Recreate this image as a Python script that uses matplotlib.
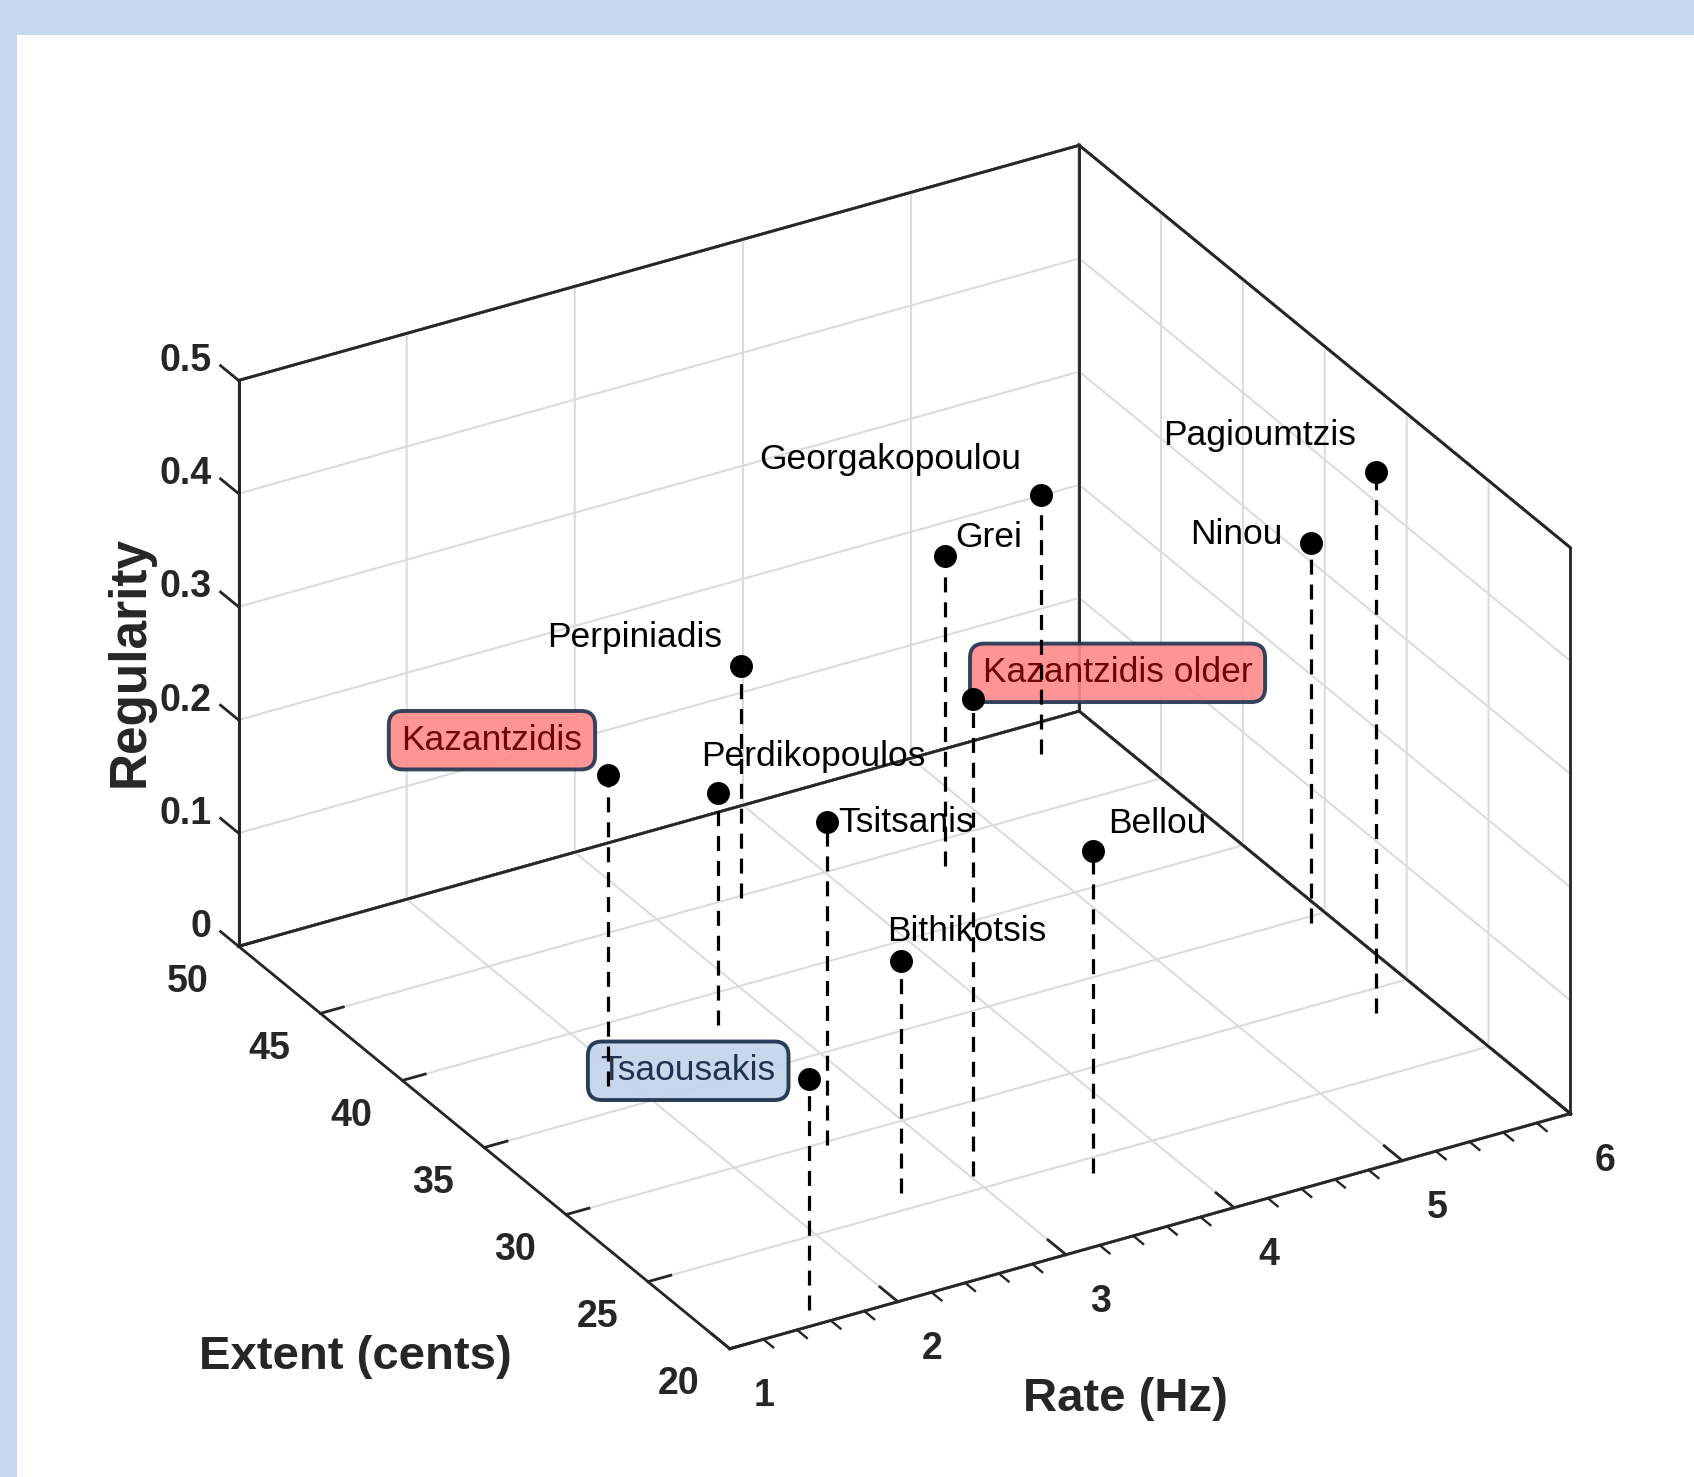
import numpy as np
import matplotlib.pyplot as plt
from matplotlib.patches import Rectangle
from mpl_toolkits.mplot3d import proj3d

# singers: vibrato rate (Hz), extent (cents), regularity
names = ['Kazantzidis', 'Perdikopoulos', 'Perpiniadis', 'Tsitsanis', 'Bithikotsis',
         'Tsaousakis', 'Kazantzidis older', 'Bellou', 'Grei', 'Georgakopoulou',
         'Ninou', 'Pagioumtzis']
rate = [1.88, 2.70, 3.49, 2.53, 2.60, 1.56, 3.01, 3.56, 4.57, 5.60, 5.88, 5.68]
extent = [36.5, 38.2, 44.9, 29.8, 26.0, 20.9, 25.8, 24.1, 43.5, 48.2, 34.6, 28.6]
regularity = [0.275, 0.205, 0.205, 0.286, 0.205, 0.204, 0.422, 0.285, 0.274, 0.229, 0.336, 0.478]

rate_ticks = [1, 2, 3, 4, 5, 6]
extent_ticks = [20, 25, 30, 35, 40, 45, 50]
reg_ticks = [0, 0.1, 0.2, 0.3, 0.4, 0.5]
reg_ticklabels = ['0', '0.1', '0.2', '0.3', '0.4', '0.5']

# label placement: offset in pixels (x right, y down) from the marker, alignment, box style
label_pos = {
    'Kazantzidis': ((-107, -32), 'center', 'red'),
    'Perdikopoulos': ((-15, -33), 'left', None),
    'Perpiniadis': ((-17, -26), 'right', None),
    'Tsitsanis': ((11, 1), 'left', None),
    'Bithikotsis': ((-12, -27), 'left', None),
    'Tsaousakis': ((-112, -8), 'center', 'blue'),
    'Kazantzidis older': ((134, -24), 'center', 'red'),
    'Bellou': ((14, -25), 'left', None),
    'Grei': ((9, -17), 'left', None),
    'Georgakopoulou': ((-19, -33), 'right', None),
    'Ninou': ((-27, -8), 'right', None),
    'Pagioumtzis': ((-18, -34), 'right', None),
}
PX = 0.778  # reference pixel -> points

W, H = 1694, 1477
dark = '#262626'
plt.rcParams['grid.color'] = '#dcdcdc'
plt.rcParams['grid.linewidth'] = 1.5
plt.rcParams['xtick.major.width'] = 2.0
plt.rcParams['ytick.major.width'] = 2.0
plt.rcParams['xtick.color'] = dark
plt.rcParams['ytick.color'] = dark

bold_font = 'Liberation Sans'

fig = plt.figure(figsize=(W / 100, H / 100), dpi=100)
fig.patch.set_facecolor('#c6d9f0')
fig.add_artist(Rectangle((17 / W, 0), 1, 1 - 35 / H, transform=fig.transFigure,
                         facecolor='white', edgecolor='none', zorder=0))

s = 0.8
ax = fig.add_axes([0.1, 0.05, s, s * W / H], projection='3d')
ax.patch.set_alpha(0)
ax.set_proj_type('ortho')
ax.view_init(elev=28.6, azim=-120.3)
ax.set_box_aspect((1, 1, 0.662))
x0, x1 = 1, 6
y0, y1 = 20, 50
z0, z1 = 0, 0.5
ax.set_xlim(x0, x1)
ax.set_ylim(y0, y1)
ax.set_zlim(z0, z1)
ax.set_xticks(rate_ticks)
ax.set_yticks(extent_ticks)
ax.set_zticks(reg_ticks)
ax.set_xticklabels([])
ax.set_yticklabels([])
ax.set_zticklabels([])

for axis, f in ((ax.xaxis, 0.46), (ax.yaxis, 0.34), (ax.zaxis, 0.0)):
    axis.set_pane_color((1, 1, 1, 1))
    axis.pane.set_edgecolor(dark)
    axis.pane.set_linewidth(2.0)
    axis.line.set_color(dark)
    axis.line.set_linewidth(2.0)
    axis._axinfo['tick']['inward_factor'] = 0.0
    axis._axinfo['tick']['outward_factor'] = f

# box frame (back edges)
frame = [((x0, x0), (y1, y1), (z0, z1)), ((x1, x1), (y1, y1), (z0, z1)),
         ((x1, x1), (y0, y0), (z0, z1)), ((x0, x1), (y1, y1), (z1, z1)),
         ((x1, x1), (y0, y1), (z1, z1)), ((x0, x1), (y1, y1), (z0, z0)),
         ((x1, x1), (y0, y1), (z0, z0))]
for fx, fy, fz in frame:
    ax.plot(fx, fy, fz, color=dark, lw=2.0, zorder=0.5)

# z ticks pointing out of the back wall, minor ticks on the rate axis
for v in reg_ticks:
    ax.plot([x0, x0], [y1, y1 + 1.1], [v, v], color=dark, lw=2.0)
minor = [v / 5 for v in range(5, 31) if v % 5]
for m in minor:
    ax.plot([m, m], [y0, y0 - 0.6], [z0, z0], color=dark, lw=1.7)

for x, y, z in zip(rate, extent, regularity):
    ax.plot([x, x], [y, y], [0, z], color='black', lw=2.3, ls=(0, (4.7, 3.1)), zorder=2)
    ax.plot([x], [y], [z], 'o', color='black', markersize=15.5, zorder=3)

# fit the projected box onto the reference box
corners = np.array([(x, y, z) for x in (x0, x1) for y in (y0, y1) for z in (z0, z1)])
tl, tr, tb, tt = 240, 1569, 127, 1333
for _ in range(3):
    fig.canvas.draw()
    px, py, _ = proj3d.proj_transform(corners[:, 0], corners[:, 1], corners[:, 2], ax.get_proj())
    pts = ax.transData.transform(np.column_stack([px, py]))
    l, r = pts[:, 0].min(), pts[:, 0].max()
    b, t = pts[:, 1].min(), pts[:, 1].max()
    pos = ax.get_position()
    size = pos.width * W
    acx, acy = (pos.x0 + pos.x1) / 2 * W, (pos.y0 + pos.y1) / 2 * H
    k = ((tr - tl) / (r - l) + (tt - tb) / (t - b)) / 2
    ns = size * k
    ncx = (tl + tr) / 2 - ((l + r) / 2 - acx) * k
    ncy = (tb + tt) / 2 - ((b + t) / 2 - acy) * k
    ax.set_position([(ncx - ns / 2) / W, (ncy - ns / 2) / H, ns / W, ns / H])

M = ax.get_proj()


def anchor(x, y, z):
    u, v, _ = proj3d.proj_transform(np.array([x]), np.array([y]), np.array([z]), M)
    return float(u[0]), float(v[0])


tick_kw = dict(textcoords='offset points', fontsize=27, fontweight='bold',
               family=bold_font, color=dark, annotation_clip=False)
for v, lab in zip(reg_ticks, reg_ticklabels):
    ax.annotate(lab, anchor(x0, y1, v), xytext=(-25 * PX, 18 * PX), ha='right', va='center', **tick_kw)
for v in rate_ticks:
    ax.annotate(str(v), anchor(v, y0, z0), xytext=(32 * PX, -44 * PX), ha='center', va='center', **tick_kw)
for v in extent_ticks:
    ax.annotate(str(v), anchor(x0, v, z0), xytext=(-47 * PX, -33 * PX), ha='center', va='center', **tick_kw)

boxes = {
    'red': dict(boxstyle='round,pad=0.36,rounding_size=0.4', fc='#ff8a8a', ec='#1f3350', lw=2.8, alpha=0.9),
    'blue': dict(boxstyle='round,pad=0.36,rounding_size=0.4', fc='#c5d5ea', ec='#1f3350', lw=2.8, alpha=0.95),
}
text_colors = {'red': '#6e0606', 'blue': '#1f3350', None: 'black'}
for name, x, y, z in zip(names, rate, extent, regularity):
    (dx, dy), ha, box = label_pos[name]
    ax.annotate(name, anchor(x, y, z), xytext=(dx * PX, -dy * PX), textcoords='offset points',
                ha=ha, va='center', fontsize=25.5, family='Liberation Sans',
                color=text_colors[box], bbox=boxes.get(box), zorder=1, annotation_clip=False)

lab_kw = dict(ha='center', va='center', fontweight='bold', family=bold_font, color=dark)
fig.text(1125 / W, 1 - 1399 / H, 'Rate (Hz)', fontsize=34, **lab_kw)
fig.text(355 / W, 1 - 1357 / H, 'Extent (cents)', fontsize=34, **lab_kw)
fig.text(130 / W, 1 - 661 / H, 'Regularity', fontsize=37, rotation=90, **lab_kw)

fig.savefig('out.png', dpi=100, facecolor=fig.get_facecolor())
